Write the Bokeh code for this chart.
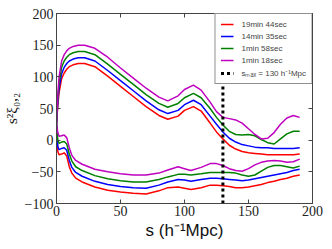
from bokeh.plotting import figure
from bokeh.models import Range1d, LinearAxis, FixedTicker
from bokeh.embed import file_html
from bokeh.resources import INLINE

# ---- data ----
s_upper = [0, 1, 2, 4, 6, 8, 10, 13, 17, 22, 30, 40, 50, 60, 70, 80, 87, 95, 100, 107,
           113, 120, 125, 130, 135, 140, 145, 150, 155, 160, 165, 170, 175, 180, 185, 190]
red_up = [25, 55, 75, 97, 106, 112, 116, 119, 121, 121, 116, 101, 85, 69, 53, 39, 33, 38, 47, 53,
          46, 27, 13, 2, -8, -14, -18, -20, -21, -22, -23, -23, -23, -23, -23, -22]
blue_up = [25, 60, 82, 105, 115, 121, 125, 128, 130, 130, 125, 110, 94, 78, 62, 48, 42, 47, 56, 63,
           56, 38, 25, 13, 3, -3, -7, -9, -11, -12, -12, -13, -13, -13, -13, -12]
green_up = [25, 65, 90, 115, 125, 131, 135, 138, 140, 140, 135, 120, 104, 88, 72, 58, 52, 58, 67, 74,
            67, 50, 36, 24, 14, 9, 8, 9, 7, 1, -4, -6, 2, 10, 14, 14]
magenta_up = [25, 70, 100, 125, 135, 141, 145, 148, 150, 150, 145, 131, 114, 98, 82, 68, 62, 70, 80, 87,
              79, 60, 45, 36, 34, 32, 27, 18, 9, 2, 3, 12, 25, 35, 39, 36]

s_lower = [0, 1, 2, 4, 6, 8, 10, 12, 15, 20, 30, 40, 50, 60, 70, 80, 87, 95, 100, 105,
           113, 120, 125, 130, 135, 140, 145, 150, 155, 160, 165, 170, 175, 180, 185, 190]
red_lo = [25, -18, -23, -22, -20, -25, -42, -52, -60, -66, -74, -79, -82, -84, -85, -80, -75, -74, -76, -78,
          -75, -71, -71, -72, -73, -75, -75, -74, -72, -70, -67, -65, -62, -60, -57, -55]
blue_lo = [25, -10, -15, -13, -12, -16, -32, -43, -51, -57, -65, -70, -73, -75, -76, -71, -66, -62, -63, -65,
           -62, -60, -60, -61, -62, -63, -64, -63, -61, -59, -57, -55, -53, -51, -48, -46]
green_lo = [25, 0, -5, -3, -2, -6, -22, -33, -42, -48, -56, -61, -64, -66, -66, -62, -58, -54, -54, -55,
            -53, -51, -51, -51, -51, -52, -55, -57, -55, -49, -43, -40, -40, -42, -44, -41]
magenta_lo = [25, 12, 6, 7, 8, 4, -12, -24, -32, -38, -46, -50, -53, -55, -55, -52, -47, -42, -45, -48,
              -43, -37, -37, -40, -45, -48, -49, -45, -39, -35, -33, -32, -33, -35, -34, -30]

series_labels = ["19min 44sec", "14min 35sec", "1min 58sec", "1min 18sec"]
smax = 130
smax_label = "s\u2098\u2090\u2093 = 130 h\u207b\u00b9Mpc"
x_ticks = [0, 50, 100, 150, 200]
y_ticks = [-100, -50, 0, 50, 100, 150, 200]
y_tick_labels = ["\u2212100", "\u221250", "0", "50", "100", "150", "200"]
x_lim = (0, 200)
y_lim = (-100, 200)

colors = ["#ff0000", "#0000ff", "#008000", "#bf00bf"]

p = figure(width=332, height=249, output_backend="svg", toolbar_location=None,
           x_range=Range1d(*x_lim), y_range=Range1d(*y_lim),
           min_border_left=53, min_border_right=20, min_border_top=13, min_border_bottom=46)
p.grid.visible = False
p.outline_line_color = "#444444"
p.background_fill_color = "white"
p.border_fill_color = "white"

serif = "Liberation Serif"
for ax in (p.xaxis[0], p.yaxis[0]):
    ax.major_tick_in = 4
    ax.major_tick_out = 0
    ax.minor_tick_line_color = None
    ax.axis_line_color = "#444444"
    ax.major_tick_line_color = "#444444"
    ax.major_label_text_font = serif
    ax.major_label_text_font_size = "14px"
    ax.major_label_text_color = "#222222"
    ax.major_label_standoff = 3
p.xaxis[0].ticker = FixedTicker(ticks=x_ticks)
p.yaxis[0].ticker = FixedTicker(ticks=y_ticks)
p.yaxis[0].major_label_overrides = {t: lab for t, lab in zip(y_ticks, y_tick_labels)}
p.xaxis[0].major_label_standoff = 2
p.xaxis[0].axis_label = "s (h\u207b\u00b9Mpc)"
p.xaxis[0].axis_label_text_font = "Liberation Sans"
p.xaxis[0].axis_label_text_font_style = "normal"
p.xaxis[0].axis_label_text_font_size = "17px"
p.xaxis[0].axis_label_standoff = 2
p.xaxis[0].axis_label_text_color = "#111111"

p.yaxis[0].axis_label = "s\u00b2\u03be\u2080,\u2082"
p.yaxis[0].axis_label_text_font = serif
p.yaxis[0].axis_label_text_font_style = "normal"
p.yaxis[0].axis_label_text_font_size = "15px"
p.yaxis[0].axis_label_standoff = 2
p.yaxis[0].axis_label_text_color = "#111111"

# inward ticks on top and right, no labels
top = LinearAxis(ticker=FixedTicker(ticks=x_ticks), major_tick_in=4, major_tick_out=0,
                 minor_tick_line_color=None, major_label_overrides={t: "" for t in x_ticks},
                 major_label_standoff=0, axis_line_color=None, major_tick_line_color="#444444")
right = LinearAxis(ticker=FixedTicker(ticks=y_ticks), major_tick_in=4, major_tick_out=0,
                   minor_tick_line_color=None, major_label_overrides={t: "" for t in y_ticks},
                   major_label_standoff=0, axis_line_color=None, major_tick_line_color="#444444")
p.add_layout(top, "above")
p.add_layout(right, "right")

uppers = [red_up, blue_up, green_up, magenta_up]
lowers = [red_lo, blue_lo, green_lo, magenta_lo]
for c, lab, yu, yl in zip(colors, series_labels, uppers, lowers):
    p.line(s_upper, yu, line_color=c, line_width=1.5, legend_label=lab)
    p.line(s_lower, yl, line_color=c, line_width=1.5)

p.line([smax, smax], list(y_lim), line_color="black", line_width=3, line_dash="3 3",
       legend_label=smax_label)

lg = p.legend[0]
lg.location = "top_right"
lg.margin = 0
lg.padding = 5
lg.spacing = 2
lg.glyph_width = 13
lg.glyph_height = 10
lg.label_height = 10
lg.label_standoff = 8
lg.label_text_font = "Liberation Sans"
lg.label_text_font_size = "8px"
lg.border_line_color = "#222222"
lg.border_line_width = 1
lg.background_fill_alpha = 1.0

open("out.html", "w").write(file_html(p, INLINE))
